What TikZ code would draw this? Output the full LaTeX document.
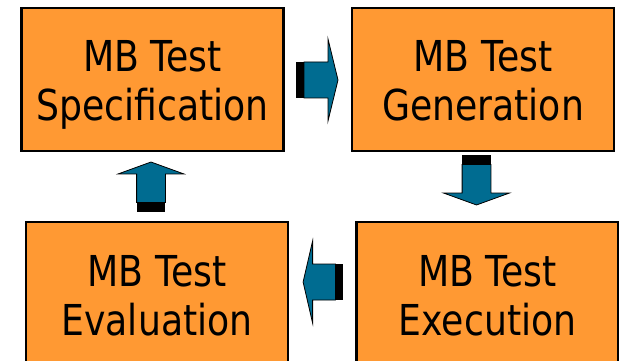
\documentclass[tikz,border=0pt]{standalone}
\usepackage{fontspec}
\newfontfamily\boxfont{DejaVu Sans}[FakeStretch=0.85]
\definecolor{stagefill}{RGB}{255,153,51}
\definecolor{arrowfill}{RGB}{0,108,145}
\begin{document}
\begin{tikzpicture}[
  x=1pt, y=-1pt,
  % the four process boxes:
  stage/.style={draw=black, line width=2.2pt, fill=stagefill,
    minimum width=262pt, minimum height=143pt, inner sep=0pt,
    align=center, text height=92pt, text depth=9pt,
    font=\boxfont\fontsize{42.6}{49}\selectfont},
  flowarrow/.pic={
    \fill[black] (0,-18) rectangle (9,18);
    \filldraw[fill=arrowfill, draw=black, line width=0.8pt]
      (8,-18) -- (32,-18) -- (32,-41) -- (42,0) -- (32,41) -- (32,18) -- (8,18) -- cycle;
  }
]
\clip (0,0) rectangle (619,361);
\fill[white] (0,0) rectangle (619,361);

\node[stage] (spec) at (152.5,79.5) {MB Test\\Specification};
\node[stage] (gen)  at (483,79.5)   {MB Test\\Generation};
\node[stage] (exec) at (487.5,293.5) {MB Test\\Execution};
\node[stage] (eval) at (157,293.5)  {MB Test\\Evaluation};

% arrows between the stages
\pic at (296,80) {flowarrow};
\pic[rotate=-90, xscale=1.19, yscale=0.8] at (476.5,155) {flowarrow};
\pic[rotate=180, xscale=0.95] at (343,282) {flowarrow};
\pic[rotate=90, xscale=1.19, yscale=0.8] at (151,212) {flowarrow};
\end{tikzpicture}
\end{document}
